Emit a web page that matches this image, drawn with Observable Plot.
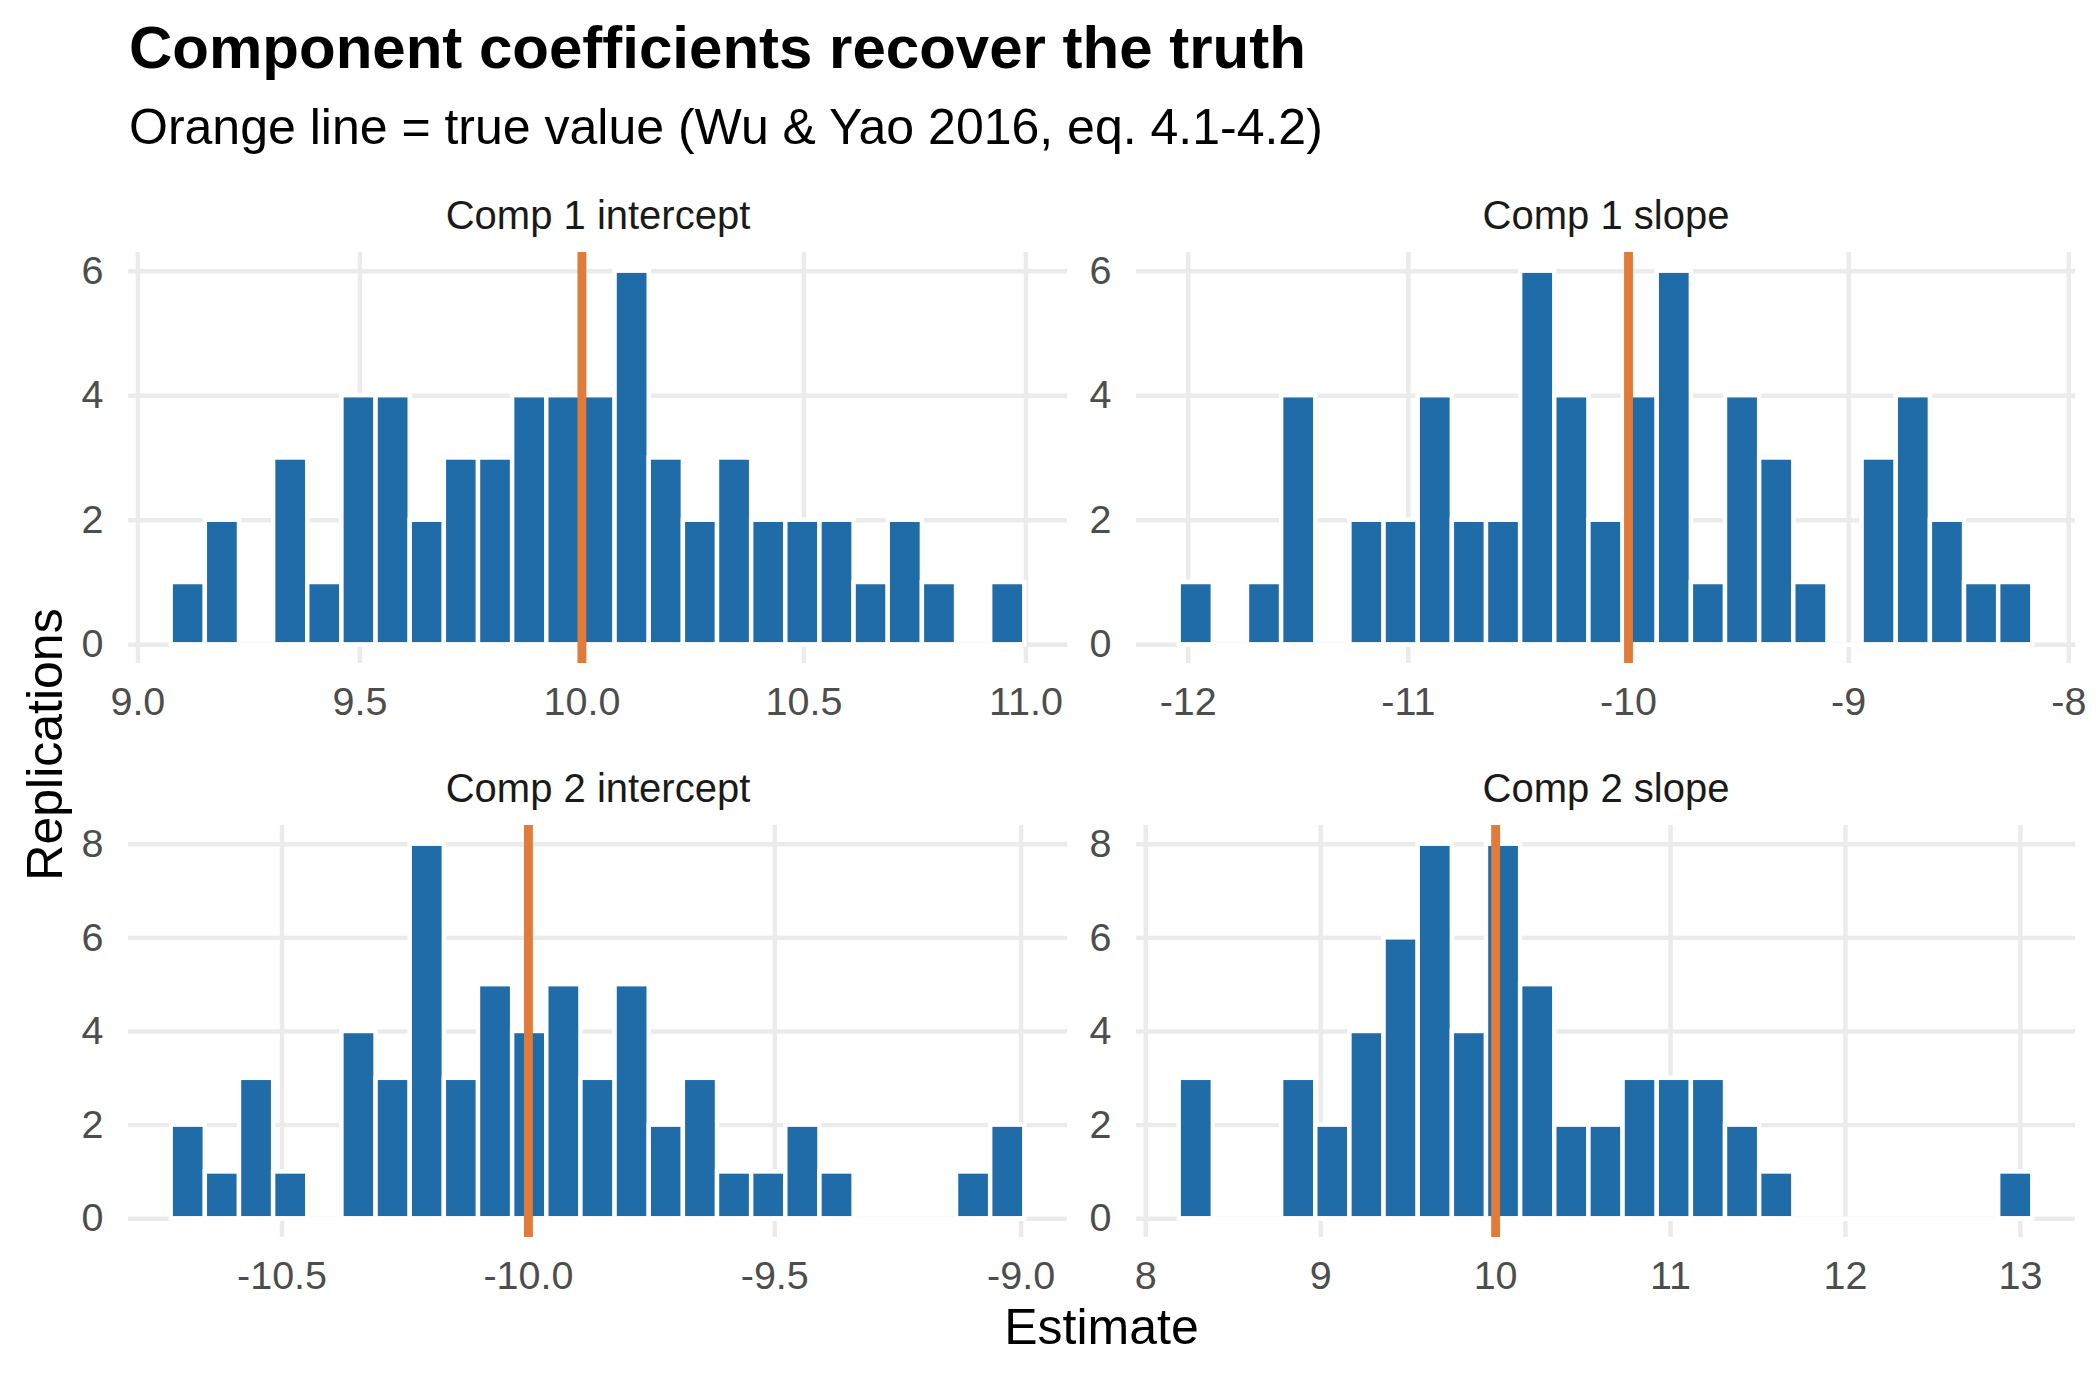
<!DOCTYPE html>
<html>
<head>
<meta charset="utf-8">
<script src="https://cdn.jsdelivr.net/npm/d3@7"></script>
<script src="https://cdn.jsdelivr.net/npm/@observablehq/plot@0.6"></script>
<style>
  html, body { margin: 0; padding: 0; background: #ffffff; }
  #page { position: relative; width: 2100px; height: 1380px; overflow: hidden;
          font-family: "Liberation Sans", Arial, Helvetica, sans-serif; }
  #page .panel { position: absolute; }
  #page .overlay { position: absolute; left: 0; top: 0; pointer-events: none; }
</style>
</head>
<body>
<div id="page"></div>
<script>
// ---- Simulation results: histogram counts of 60 replications per coefficient ----
const panelTitles = ["Comp 1 intercept", "Comp 1 slope", "Comp 2 intercept", "Comp 2 slope"];
const trueValues  = [10, -10, -10, 10];

// left edge of the first bin and the common bin width for each histogram
const binStarts = [9.075, -12.041, -10.725, 8.191];
const binWidths = [0.0769, 0.1551, 0.0693, 0.1952];

const countsComp1Intercept = [1, 2, 0, 3, 1, 4, 4, 2, 3, 3, 4, 4, 4, 6, 3, 2, 3, 2, 2, 2, 1, 2, 1, 0, 1];
const countsComp1Slope     = [1, 0, 1, 4, 0, 2, 2, 4, 2, 2, 6, 4, 2, 4, 6, 1, 4, 3, 1, 0, 3, 4, 2, 1, 1];
const countsComp2Intercept = [2, 1, 3, 1, 0, 4, 3, 8, 3, 5, 4, 5, 3, 5, 2, 3, 1, 1, 2, 1, 0, 0, 0, 1, 2];
const countsComp2Slope     = [3, 0, 0, 3, 2, 4, 6, 8, 4, 8, 5, 2, 2, 3, 3, 3, 2, 1, 0, 0, 0, 0, 0, 0, 1];
const panelCounts = [countsComp1Intercept, countsComp1Slope, countsComp2Intercept, countsComp2Slope];

// tick labels
const xTicks = [
  [9.0, 9.5, 10.0, 10.5, 11.0],
  [-12, -11, -10, -9, -8],
  [-10.5, -10.0, -9.5, -9.0],
  [8, 9, 10, 11, 12, 13]
];
const xDecimals = [1, 0, 1, 0];
const yTicks = [
  [0, 2, 4, 6],
  [0, 2, 4, 6],
  [0, 2, 4, 6, 8],
  [0, 2, 4, 6, 8]
];

// ---- styling ----
const BAR_FILL   = "#1F6CA9";
const TRUE_LINE  = "#E07B39";
const GRID       = "#EBEBEB";
const TICK_TEXT  = "#4D4D4D";
const STRIP_TEXT = "#1A1A1A";
const FONT = "'Liberation Sans', Arial, Helvetica, sans-serif";
const TICK = 39.5, STRIP = 40, LARGE = 50, TITLE = 60;
const LINE = 4.44;

// panel frames on the page (facet grid, 2 x 2)
const frames = [
  {left: 128,  top: 252, w: 939, h: 411},
  {left: 1136, top: 252, w: 939, h: 411},
  {left: 128,  top: 825, w: 939, h: 412},
  {left: 1136, top: 825, w: 939, h: 412}
];
const M = {left: 128, right: 24, top: 80, bottom: 80};

const page = document.getElementById("page");

panelCounts.forEach((counts, p) => {
  const start = binStarts[p], w = binWidths[p];
  const bins = counts.map((n, i) => ({x1: start + i * w, x2: start + (i + 1) * w, n}));
  const lo = start, hi = start + counts.length * w;
  const pad = 0.05 * (hi - lo);
  const ymax = d3.max(counts);
  const f = frames[p];
  const fmt = d => d.toFixed(xDecimals[p]);

  const chart = Plot.plot({
    width: M.left + f.w + M.right,
    height: M.top + f.h + M.bottom,
    marginLeft: M.left, marginRight: M.right, marginTop: M.top, marginBottom: M.bottom,
    style: {fontFamily: FONT, fontSize: TICK + "px", background: "transparent", overflow: "visible"},
    x: {domain: [lo - pad, hi + pad]},
    y: {domain: [-0.05 * ymax, 1.05 * ymax]},
    marks: [
      Plot.gridX(xTicks[p], {stroke: GRID, strokeOpacity: 1, strokeWidth: LINE}),
      Plot.gridY(yTicks[p], {stroke: GRID, strokeOpacity: 1, strokeWidth: LINE}),
      // outline of the empty bins along the baseline
      Plot.ruleY([0], {x1: lo, x2: hi, stroke: "white", strokeWidth: LINE}),
      Plot.rect(bins, {x1: "x1", x2: "x2", y1: 0, y2: "n", fill: BAR_FILL, stroke: "white", strokeWidth: LINE}),
      Plot.ruleX([trueValues[p]], {stroke: TRUE_LINE, strokeWidth: 2 * LINE}),
      Plot.axisX(xTicks[p], {tickSize: 0, tickPadding: 23, tickFormat: fmt, label: null,
                             color: TICK_TEXT, fontSize: TICK}),
      Plot.axisY(yTicks[p], {tickSize: 0, tickPadding: 25, tickFormat: d => String(d), label: null,
                             color: TICK_TEXT, fontSize: TICK}),
      Plot.text([panelTitles[p]], {frameAnchor: "top", dy: -24, lineAnchor: "bottom",
                                   fontSize: STRIP, fill: STRIP_TEXT})
    ]
  });
  chart.classList.add("panel");
  chart.style.left = (f.left - M.left) + "px";
  chart.style.top = (f.top - M.top) + "px";
  page.appendChild(chart);
});

// ---- titles and shared axis titles ----
const overlay = d3.select(page).append("svg")
  .attr("class", "overlay")
  .attr("width", 2100).attr("height", 1380)
  .style("font-family", FONT);

overlay.append("text")
  .attr("x", 129).attr("y", 68)
  .attr("font-size", TITLE).attr("font-weight", "bold").attr("fill", "#000")
  .text("Component coefficients recover the truth");

overlay.append("text")
  .attr("x", 129).attr("y", 144)
  .attr("font-size", LARGE).attr("fill", "#000")
  .text("Orange line = true value (Wu & Yao 2016, eq. 4.1-4.2)");

overlay.append("text")
  .attr("x", (frames[0].left + frames[1].left + frames[1].w) / 2).attr("y", 1344)
  .attr("text-anchor", "middle")
  .attr("font-size", LARGE).attr("fill", "#000")
  .text("Estimate");

overlay.append("text")
  .attr("transform", `translate(62, ${(frames[0].top + frames[2].top + frames[2].h) / 2}) rotate(-90)`)
  .attr("text-anchor", "middle")
  .attr("font-size", LARGE).attr("fill", "#000")
  .text("Replications");
</script>
</body>
</html>
